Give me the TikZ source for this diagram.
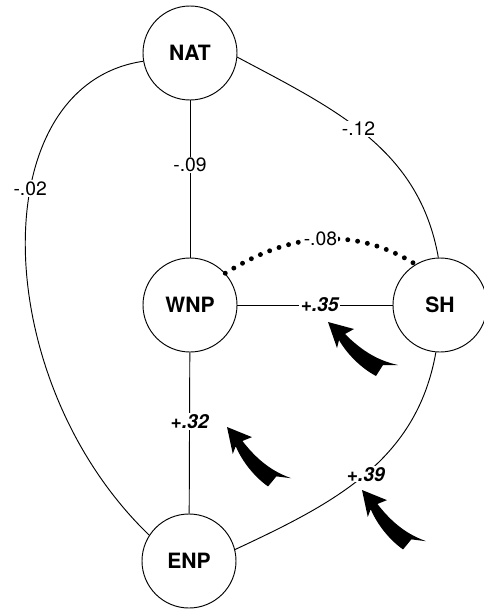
\documentclass[tikz,border=0pt]{standalone}
\usepackage{fontspec}
\setmainfont{TeX Gyre Heros}
\tikzset{
  pics/bentarrow/.style={code={
    \fill (0,0) -- (26,7) -- (17,12) .. controls (31,26) and (47,38) .. (70,43)
      -- (55,43) -- (48,54) .. controls (33,46) and (19,32) .. (11,18) -- (9,26) -- cycle;
  }}
}

\begin{document}
\begin{tikzpicture}[x=0.03cm, y=-0.03cm, line width=0.8pt,
    var/.style={circle, draw, minimum size=2.82cm, inner sep=0pt, font=\fontsize{18}{20}\selectfont\bfseries},
    coef/.style={fill=white, inner sep=1pt, font=\fontsize{16.5}{18}\selectfont},
    sig/.style={coef, font=\fontsize{16.5}{18}\selectfont\bfseries\itshape},
    dotline/.style={line width=4.2pt, line cap=round, dash pattern=on 0pt off 8.5pt}]
    \useasboundingbox (0,0) rectangle (484,609);
    \node[var] (NAT) at (190,53) {NAT};
    \node[var] (WNP) at (190,305) {WNP};
    \node[var] (SH) at (440,305) {SH};
    \node[var] (ENP) at (189,561) {ENP};
    \draw (NAT) -- node[coef,pos=0.41]{-.09} (WNP);
    \draw (WNP) -- node[sig,pos=0.43]{+.32} (ENP);
    \draw (WNP) -- node[sig,pos=0.53]{+.35} (SH);
    \draw (NAT.190) .. controls (-18,85) and (-12,380) .. node[coef,pos=0.39]{-.02} (ENP.147);
    \draw (NAT.355) to[out=-28,in=100] node[coef,pos=0.46]{-.12} (SH.92);
    \draw (SH.265) to[out=-100,in=25] node[sig,pos=0.5]{+.39} (ENP.14);
    \draw[dotline] (WNP.42) to[out=32,in=148] node[coef,pos=0.5]{-.08} (SH.121);
    % arrows pointing at the significant paths
    \pic at (328,322) {bentarrow};
    \pic[rotate=-7] at (227,427) {bentarrow};
    \pic[rotate=-7] at (362,490) {bentarrow};
\end{tikzpicture}
\end{document}
